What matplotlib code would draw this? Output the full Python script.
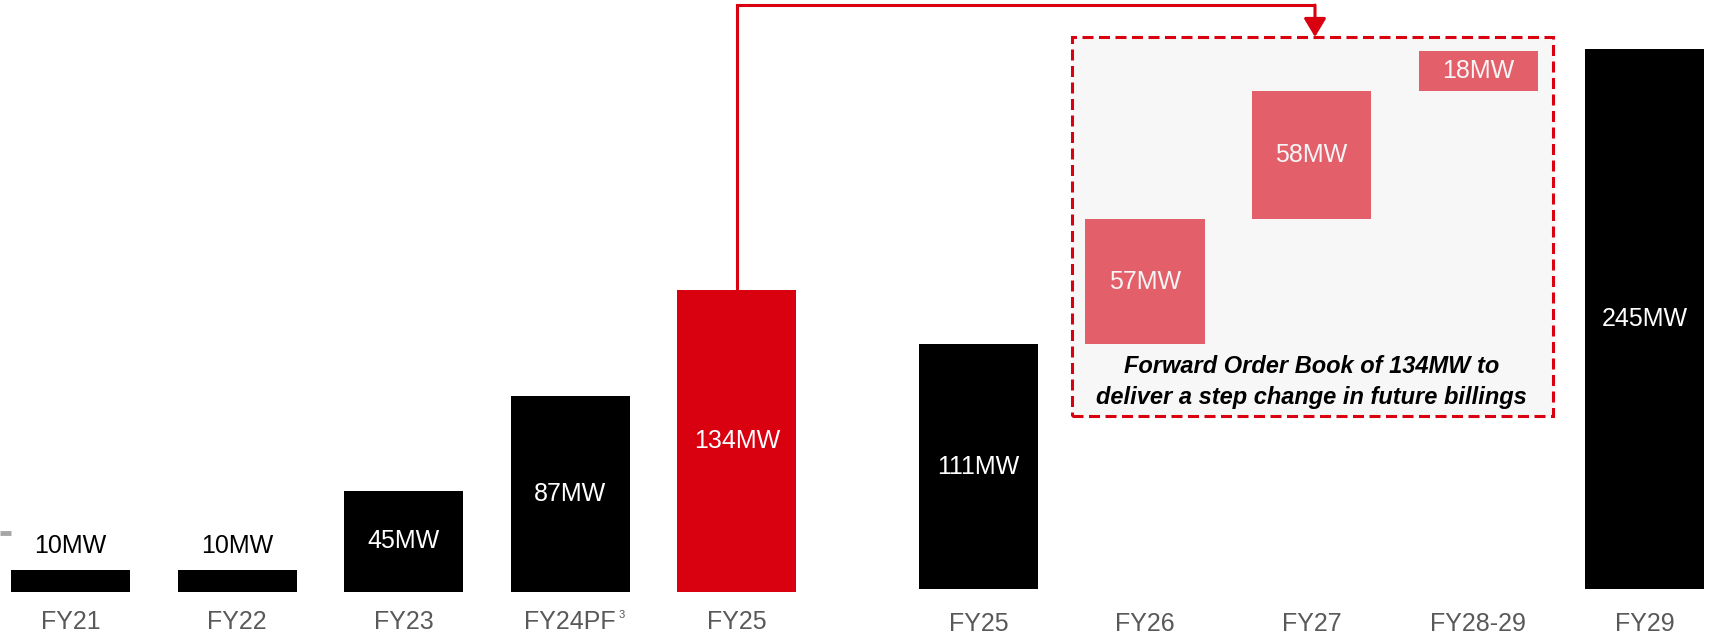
import matplotlib.pyplot as plt
from matplotlib.patches import Rectangle, FancyArrowPatch

plt.rcParams['font.family'] = ['Liberation Sans', 'DejaVu Sans']

# === Data ===
hist_cats = ["FY21", "FY22", "FY23", "FY24PF", "FY25"]
hist_vals = [10, 10, 45, 87, 134]
hist_labels = ["10MW", "10MW", "45MW", "87MW", "134MW"]

fwd_cats = ["FY25", "FY26", "FY27", "FY28-29", "FY29"]
fwd_bottoms = [0, 111, 168, 226, 0]
fwd_vals = [111, 57, 58, 18, 245]
fwd_labels = ["111MW", "57MW", "58MW", "18MW", "245MW"]
fwd_kinds = ["hist", "fob", "fob", "fob", "hist"]

footnote = "3"
callout = "Forward Order Book of 134MW to\ndeliver a step change in future billings"

# layout: slot positions (gap between the two groups)
hist_x = [0, 1, 2, 3, 4]
fwd_x = [5.45, 6.45, 7.45, 8.45, 9.45]
bar_w = 0.715
red = "#D9000F"
pink = "#E3606B"
grey_txt = "#595959"
fs = 18

fig = plt.figure(figsize=(17.1, 6.38), dpi=100)
# two overlaid axes: the two groups in the slide use slightly different scales
ax_l = fig.add_axes([0, 0, 1, 1])
ax_r = fig.add_axes([0, 0, 1, 1])
for ax in (ax_l, ax_r):
    ax.set_xlim(-0.423, 9.841)
    ax.axis("off")
    ax.patch.set_alpha(0)
ax_l.set_ylim(-20.3, 262.3)
ax_r.set_ylim(-22.3, 267.3)

# === left group ===
hist_colors = ["black"] * 4 + [red]
ax_l.bar(hist_x, hist_vals, width=bar_w, color=hist_colors, zorder=2)
for x, v, lab in zip(hist_x, hist_vals, hist_labels):
    if v < 20:
        ax_l.annotate(lab, (x, v), xytext=(0, 17), textcoords="offset points",
                      ha="center", va="center", color="black", fontsize=fs)
    else:
        ax_l.text(x, v / 2, lab, ha="center", va="center", color="white", fontsize=fs)
for x, cat in zip(hist_x, hist_cats):
    t = ax_l.text(x, -13.0, cat, ha="center", va="center", color=grey_txt, fontsize=fs)
    if cat == "FY24PF":
        ax_l.annotate(footnote, xy=(1, 1), xycoords=t, xytext=(1.5, 0),
                      textcoords="offset points", ha="left", va="top",
                      color=grey_txt, fontsize=8)

# === right group ===
box = Rectangle((6.011, 78.5), 8.898 - 6.011, 250.5 - 78.5, facecolor="#F7F7F7",
                edgecolor=red, linewidth=2.2, linestyle=(0, (3.6, 1.8)), zorder=1)
ax_r.add_patch(box)

ax_r.bar(fwd_x, fwd_vals, bottom=fwd_bottoms, width=bar_w,
         color=[pink if k == "fob" else "black" for k in fwd_kinds], zorder=2)
for x, b, v, lab, k in zip(fwd_x, fwd_bottoms, fwd_vals, fwd_labels, fwd_kinds):
    ax_r.text(x, b + v / 2, lab, ha="center", va="center",
              color="#F5F5F5" if k == "fob" else "white", fontsize=fs, zorder=3)
for x, cat in zip(fwd_x, fwd_cats):
    ax_r.text(x, -15.8, cat, ha="center", va="center", color=grey_txt, fontsize=fs)

ax_r.text(7.45, 94.1, callout, ha="center", va="center", fontsize=17,
          fontweight="bold", fontstyle="italic", color="black", linespacing=1.45, zorder=3)

# connector from FY25 order bar to the box
ax_l.plot([hist_x[4], hist_x[4], 7.47], [hist_vals[4], 260.1, 260.1], color=red, lw=2.2,
          solid_capstyle="butt", solid_joinstyle="miter", zorder=3)
arrow = FancyArrowPatch((7.47, 265.0), (7.47, 250.5),
                        arrowstyle="-|>,head_length=0.75,head_width=0.45",
                        mutation_scale=15, color=red, lw=2.2, shrinkA=0, shrinkB=0, zorder=3)
ax_r.add_patch(arrow)

# small grey fragment at left edge
ax_l.plot([-0.423, -0.357], [26.3, 26.3], color="#A6A6A6", lw=3.5, solid_capstyle="butt")

fig.savefig("out.png", dpi=100)
